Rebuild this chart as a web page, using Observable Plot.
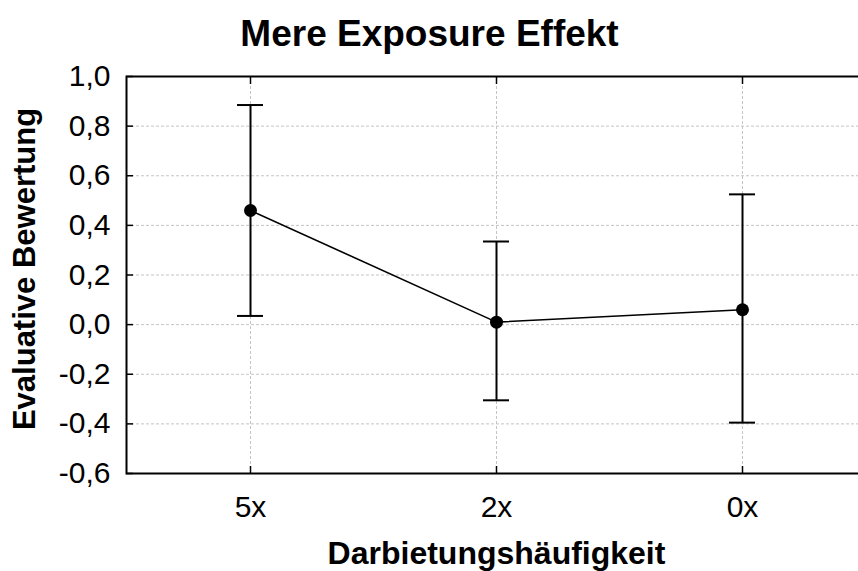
<!DOCTYPE html>
<html>
<head>
<meta charset="utf-8">
<script src="https://cdn.jsdelivr.net/npm/d3@7"></script>
<script src="https://cdn.jsdelivr.net/npm/@observablehq/plot@0.6"></script>
<style>
  html, body { margin: 0; padding: 0; background: #fff; overflow: hidden; }
  #chart svg { overflow: hidden; }
</style>
</head>
<body>
<div id="chart"></div>
<script>
const categories = ["5x", "2x", "0x"];
const means = [0.46, 0.01, 0.06];
const lower = [0.035, -0.305, -0.395];
const upper = [0.885, 0.335, 0.525];
const yTicks = [-0.6, -0.4, -0.2, 0.0, 0.2, 0.4, 0.6, 0.8, 1.0];
const titleText = ["Mere Exposure Effekt"];
const xTitle = ["Darbietungshäufigkeit"];
const yTitle = ["Evaluative Bewertung"];

const data = categories.map((c, i) => ({cat: c, mean: means[i], lo: lower[i], hi: upper[i]}));
const fmt = d => d.toFixed(1).replace(".", ",");
const font = "'Liberation Sans', Arial, sans-serif";

const chart = Plot.plot({
  width: 858,
  height: 571,
  marginTop: 76,
  marginBottom: 98,
  marginLeft: 126,
  marginRight: -8,
  style: {fontFamily: font, background: "#fff", color: "#000"},
  x: {type: "band", domain: categories, paddingInner: 0.895, paddingOuter: 0.4475, label: null},
  y: {domain: [-0.6, 1.0], label: null},
  marks: [
    Plot.gridY(yTicks, {stroke: "#c4c4c4", strokeOpacity: 1, strokeDasharray: "3,2"}),
    Plot.gridX(categories, {stroke: "#c4c4c4", strokeOpacity: 1, strokeDasharray: "3,2"}),
    // inward ticks
    Plot.axisY(yTicks, {anchor: "left", tickSize: 7, dx: 7, tickFormat: () => "", strokeWidth: 1.5}),
    Plot.axisX(categories, {anchor: "bottom", tickSize: 7, dy: -7, tickFormat: () => "", strokeWidth: 1.5}),
    Plot.axisX(categories, {anchor: "top", tickSize: 7, dy: 7, tickFormat: () => "", strokeWidth: 1.5}),
    // labels
    Plot.axisY(yTicks, {anchor: "left", tickSize: 0, tickPadding: 16, tickFormat: fmt, fontSize: 30, fill: "#000"}),
    Plot.axisX(categories, {anchor: "bottom", tickSize: 0, tickPadding: 22, fontSize: 30, fill: "#000"}),
    Plot.frame({stroke: "#000", strokeWidth: 2}),
    Plot.ruleX(data, {x: "cat", y1: "lo", y2: "hi", stroke: "#000", strokeWidth: 2}),
    Plot.tickY(data, {x: "cat", y: "lo", stroke: "#000", strokeWidth: 2}),
    Plot.tickY(data, {x: "cat", y: "hi", stroke: "#000", strokeWidth: 2}),
    Plot.line(data, {x: "cat", y: "mean", stroke: "#000", strokeWidth: 1.6}),
    Plot.dot(data, {x: "cat", y: "mean", r: 6.5, fill: "#000", stroke: "none"}),
    Plot.text(titleText, {frameAnchor: "top", dx: -67, dy: -42, lineAnchor: "middle", fontSize: 37, fontWeight: "bold", fill: "#000"}),
    Plot.text(xTitle, {frameAnchor: "bottom", dy: 80, lineAnchor: "middle", fontSize: 32, fontWeight: "bold", fill: "#000"}),
    Plot.text(yTitle, {frameAnchor: "left", textAnchor: "middle", dx: -101, dy: -6, rotate: -90, lineAnchor: "middle", fontSize: 31, fontWeight: "bold", fill: "#000"})
  ]
});
document.getElementById("chart").appendChild(chart);
</script>
</body>
</html>
